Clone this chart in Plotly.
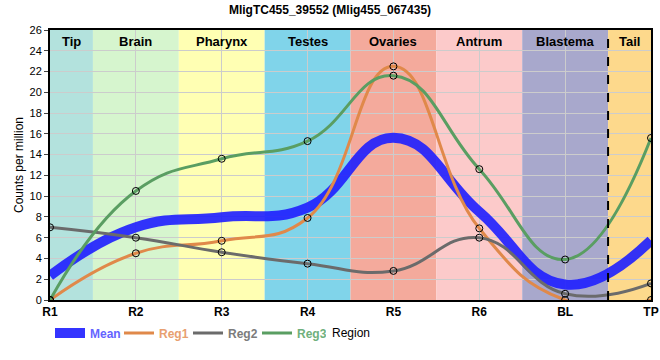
import plotly.graph_objects as go

regions = ["R1", "R2", "R3", "R4", "R5", "R6", "BL", "TP"]
reg1 = [0.0, 4.5, 5.7, 7.9, 22.5, 6.9, 0.0, 0.0]
reg2 = [7.0, 6.0, 4.6, 3.5, 2.8, 6.0, 0.6, 1.6]
reg3 = [0.0, 10.5, 13.6, 15.3, 21.6, 12.6, 3.9, 15.6]
mean = [round((a + b + c) / 3, 3) for a, b, c in zip(reg1, reg2, reg3)]

tissues = ["Tip", "Brain", "Pharynx", "Testes", "Ovaries", "Antrum", "Blastema", "Tail"]
tissue_colors = ["#b3e2dd", "#d6f5ce", "#ffffb3", "#80d4ea", "#f4aa9c", "#fccaca", "#a8a8cc", "#fdd98c"]

x = list(range(len(regions)))
fig = go.Figure()

# background bands
for i, (t, c) in enumerate(zip(tissues, tissue_colors)):
    x0 = max(i - 0.5, 0)
    x1 = min(i + 0.5, len(regions) - 1)
    fig.add_shape(type="rect", xref="x", yref="paper", x0=x0, x1=x1, y0=0, y1=1,
                  fillcolor=c, line_width=0, layer="below")
    fig.add_annotation(x=(x0 + x1) / 2, y=1, xref="x", yref="paper", yanchor="top",
                       yshift=-2, text="<b>%s</b>" % t, showarrow=False,
                       font=dict(size=13, color="black", family="Liberation Sans, Arial"))

fig.add_shape(type="line", xref="x", yref="paper", x0=6.5, x1=6.5, y0=0, y1=1,
              line=dict(color="black", width=2, dash="dash"))

# x-axis title
fig.add_annotation(x=0.5, y=-0.122, xref="paper", yref="paper", yanchor="middle",
                   text="Region", showarrow=False, font=dict(size=12, color="black"))

series = [
    ("Mean", mean, "rgba(30,30,255,0.9)", 10, "#6464ff", False),
    ("Reg1", reg1, "#e0894a", 3, "#e8a070", True),
    ("Reg2", reg2, "#6b6b6b", 3, "#7c7c7c", True),
    ("Reg3", reg3, "#5a9e62", 3, "#6fb07c", True),
]
for name, vals, col, w, tcol, mk in series:
    fig.add_trace(go.Scatter(x=x, y=vals, mode="lines",
                             line=dict(color=col, width=w, shape="spline", smoothing=1.3),
                             name="<span style='color:%s'><b>%s</b></span>" % (tcol, name)))
for name, vals, col, w, tcol, mk in series:
    if mk:
        fig.add_trace(go.Scatter(x=x, y=vals, mode="markers", showlegend=False,
                                 marker=dict(symbol="circle-open", color="black", size=7,
                                             line=dict(width=1))))

fig.update_layout(
    width=660, height=360,
    margin=dict(l=50, r=9, t=30, b=60, autoexpand=False),
    paper_bgcolor="white", plot_bgcolor="white",
    font=dict(family="Liberation Sans, Arial", size=11, color="black"),
    title=dict(text="<b>MligTC455_39552 (Mlig455_067435)</b>", x=0.5, xanchor="center",
               y=0.972, yref="container", yanchor="middle", font=dict(size=12)),
    legend=dict(orientation="h", x=0.0, xanchor="left", y=0.075, yref="container",
                yanchor="middle", font=dict(size=12), bgcolor="rgba(0,0,0,0)",
                itemwidth=30, entrywidth=24, tracegroupgap=0),
    showlegend=True,
)
fig.update_xaxes(range=[0, 7], tickvals=x, ticktext=["<b>%s</b>" % r for r in regions],
                 showgrid=True, gridcolor="#cccccc", gridwidth=1, automargin=False,
                 showline=True, linecolor="black", linewidth=2, mirror=True,
                 tickfont=dict(size=12), zeroline=False)
fig.update_yaxes(range=[0, 26], dtick=2, showgrid=True, gridcolor="#cccccc", gridwidth=1,
                 showline=True, linecolor="black", linewidth=2, mirror=True, automargin=True,
                 ticks="outside", ticklen=4, tickfont=dict(size=11), zeroline=False,
                 title=dict(text="Counts per million", font=dict(size=12), standoff=3))

fig.write_html("out.html", config={"displayModeBar": False},
               post_script="document.body.style.margin='0';document.body.style.padding='0';")
